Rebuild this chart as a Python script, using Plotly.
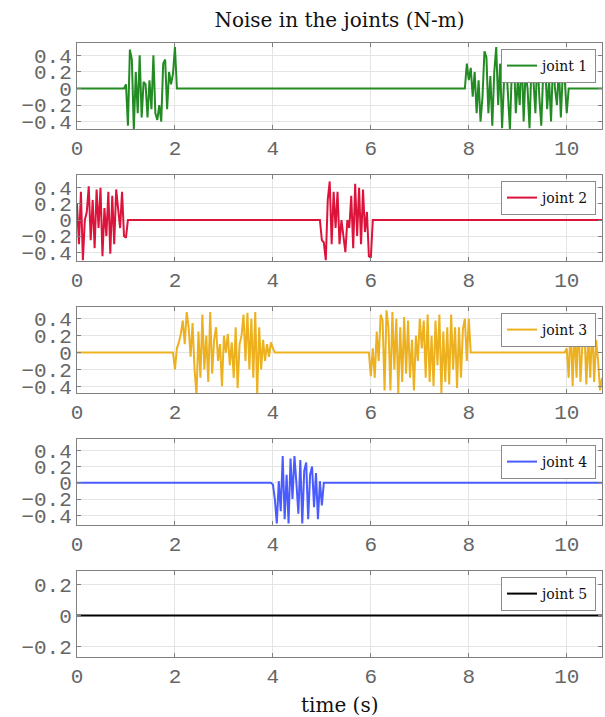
import numpy as np
import plotly.graph_objects as go

# ---------------- data ----------------
DT = 0.04           # sample period (s)
T_END = 10.72       # last sample time (s)

joint_names = ["joint 1", "joint 2", "joint 3", "joint 4", "joint 5"]

# noise bursts: start time and sampled values (N-m); zero elsewhere
j1_a_start = 1.0
j1_a = [0.05, -0.45, 0.47, 0.35, -0.5, 0.2, -0.3, 0.4, -0.35, 0.08,
        0.05, -0.35, 0.1, -0.25, 0.4, -0.3, -0.38, -0.2, -0.4, 0.3,
        0.35, -0.25, 0.2, 0.05, 0.18, 0.5]
j1_b_start = 7.96
j1_b = [0.3, 0.1, 0.25, -0.1, 0.2, -0.3, 0.1, -0.4, -0.1, 0.45,
        0.38, -0.3, 0.15, -0.45, 0.2, 0.5, -0.2, 0.3, -0.48, 0.1,
        0.35, -0.15, -0.5, 0.25, 0.4, -0.3, 0.1, -0.2, 0.45, -0.4,
        0.2, 0.0, -0.48, 0.3, 0.1, -0.3, 0.4, -0.1, -0.45, 0.2,
        0.3, -0.25, 0.1, -0.4, 0.35, 0.0, -0.2, 0.25, -0.35, 0.2,
        0.1, -0.3]

j2_a_start = 0.0
j2_a = [0.2, -0.3, 0.35, -0.5, 0.0, 0.1, 0.42, -0.25, 0.25, -0.35,
        0.38, -0.1, 0.4, -0.45, 0.15, -0.2, 0.35, -0.42, 0.3, -0.3,
        0.38, 0.1, -0.1, 0.35, -0.2, -0.22]
j2_b_start = 5.0
j2_b = [-0.25, -0.28, -0.5, 0.25, 0.48, -0.3, 0.35, -0.1, 0.35, -0.3,
        0.0, -0.2, -0.4, 0.0, -0.1, 0.3, -0.35, 0.45, -0.2, 0.4,
        -0.3, 0.38, -0.15, 0.1, -0.45, -0.47]

j3_a_start = 2.0
j3_a = [-0.2, 0.05, 0.12, 0.22, 0.38, 0.1, 0.48, 0.3, -0.05, 0.35,
        -0.2, -0.5, 0.25, -0.3, 0.45, -0.2, 0.2, -0.35, 0.48, -0.25,
        0.15, 0.3, -0.1, 0.1, -0.4, 0.2, 0.0, 0.22, -0.15, 0.12,
        -0.3, 0.3, -0.42, 0.1, 0.2, 0.45, -0.1, 0.47, -0.2, 0.4,
        -0.3, 0.48, -0.5, 0.3, -0.2, 0.15, -0.1, 0.1, -0.05, 0.12,
        0.05]
j3_b_start = 6.0
j3_b = [-0.28, 0.05, -0.3, 0.25, -0.1, 0.45, 0.38, -0.45, 0.5, 0.3,
        -0.45, 0.48, -0.2, 0.4, -0.48, 0.3, -0.35, 0.42, -0.25, 0.38,
        -0.3, 0.15, -0.45, 0.2, -0.1, 0.4, 0.05, 0.38, -0.3, 0.45,
        -0.35, 0.2, -0.4, 0.38, -0.15, 0.45, -0.48, 0.25, -0.35, 0.3,
        -0.38, 0.45, -0.2, 0.3, -0.42, 0.3, -0.3, 0.28, 0.4, -0.1,
        0.4]
j3_c_start = 10.0
j3_c = [0.05, -0.3, 0.35, -0.4, 0.3, -0.3, 0.4, -0.35, 0.1, 0.3,
        -0.38, 0.2, -0.3, 0.35, -0.35, 0.15, -0.1, -0.45, -0.3]

j4_a_start = 4.0
j4_a = [-0.02, -0.2, -0.5, 0.02, -0.35, 0.33, -0.45, 0.1, -0.5, 0.3,
        -0.2, 0.33, 0.0, -0.38, 0.28, -0.5, 0.15, 0.25, -0.45, 0.1,
        0.2, -0.3, 0.12, -0.45, 0.02, -0.28]

joint_segments = [
    [(j1_a_start, j1_a), (j1_b_start, j1_b)],
    [(j2_a_start, j2_a), (j2_b_start, j2_b)],
    [(j3_a_start, j3_a), (j3_b_start, j3_b), (j3_c_start, j3_c)],
    [(j4_a_start, j4_a)],
    [],
]

x_tickvals = [0, 2, 4, 6, 8, 10]
x_ticktext = ["0", "2", "4", "6", "8", "10"]
y_tickvals_big = [-0.4, -0.2, 0, 0.2, 0.4]
y_ticktext_big = ["\u22120.4", "\u22120.2", "0", "0.2", "0.4"]
y_tickvals_small = [-0.2, 0, 0.2]
y_ticktext_small = ["\u22120.2", "0", "0.2"]

# ---------------- build ----------------
n = int(round(T_END / DT)) + 1
t = np.round(np.arange(n) * DT, 4)


def build(segments):
    y = np.zeros(n)
    for start, vals in segments:
        i0 = int(round(start / DT))
        y[i0:i0 + len(vals)] = vals
    return y


colors = ["#238b23", "#dc143c", "#edb120", "#4a5cff", "#000000"]
y_ranges = [[-0.49, 0.55], [-0.51, 0.56], [-0.48, 0.54], [-0.52, 0.54], [-0.265, 0.285]]

W, H = 605, 717
x0_px, x1_px = 77, 602
tops = [43, 175, 307, 439, 571]
PH = 86

mono = "Liberation Mono, Courier New, monospace"
serif = "DejaVu Serif, serif"
tick_col = "#666666"
frame_col = "#808080"
grid_col = "#e4e4e4"

fig = go.Figure()
layout = dict(
    width=W, height=H,
    margin=dict(l=0, r=0, t=0, b=0, autoexpand=False),
    paper_bgcolor="white", plot_bgcolor="white",
    showlegend=True,
)

for k in range(5):
    s = "" if k == 0 else str(k + 1)
    y = build(joint_segments[k])
    fig.add_trace(go.Scatter(
        x=t, y=y, mode="lines", name=joint_names[k],
        line=dict(color=colors[k], width=2),
        xaxis="x" + s, yaxis="y" + s, legend="legend" + s,
        showlegend=True,
    ))
    top = tops[k]
    bot = top + PH
    dom_y = [1 - bot / H, 1 - top / H]
    small = (k == 4)
    layout["xaxis" + s] = dict(
        domain=[x0_px / W, x1_px / W], anchor="y" + s,
        range=[0, 10.72], tickvals=x_tickvals, ticktext=x_ticktext,
        showgrid=True, gridcolor=grid_col, gridwidth=1,
        showline=True, linecolor=frame_col, linewidth=1, mirror="ticks",
        ticks="inside", ticklen=4, tickcolor=frame_col,
        tickfont=dict(family=mono, size=21, color=tick_col),
        zeroline=False, automargin=False,
    )
    layout["yaxis" + s] = dict(
        domain=dom_y, anchor="x" + s,
        range=y_ranges[k],
        tickvals=y_tickvals_small if small else y_tickvals_big,
        ticktext=y_ticktext_small if small else y_ticktext_big,
        showgrid=True, gridcolor=grid_col, gridwidth=1,
        showline=True, linecolor=frame_col, linewidth=1, mirror="ticks",
        ticks="inside", ticklen=4, tickcolor=frame_col,
        tickfont=dict(family=mono, size=21, color=tick_col),
        zeroline=False, automargin=False,
    )
    layout["legend" + s] = dict(
        x=596 / W, xanchor="right", y=1 - (top + 6) / H, yanchor="top",
        xref="paper", yref="paper",
        bgcolor="white", bordercolor="#8a8a8a", borderwidth=1,
        font=dict(family=serif, size=14, color="#111111"),
        tracegroupgap=0, itemwidth=30,
    )

layout["title"] = dict(
    text="Noise in the joints (N-m)",
    x=339.5 / W, xanchor="center", xref="paper",
    y=1 - 20 / H, yanchor="middle", yref="paper",
    font=dict(family=serif, size=20, color="#111111"),
)
layout["annotations"] = [dict(
    text="time (s)", x=339.5 / W, y=1 - 705 / H, xref="paper", yref="paper",
    xanchor="center", yanchor="middle", showarrow=False,
    font=dict(family=serif, size=20, color="#111111"),
)]

fig.update_layout(**layout)
fig.write_html(
    "out.html",
    config={"displayModeBar": False},
    post_script="document.body.style.margin='0';document.body.style.padding='0';",
)
